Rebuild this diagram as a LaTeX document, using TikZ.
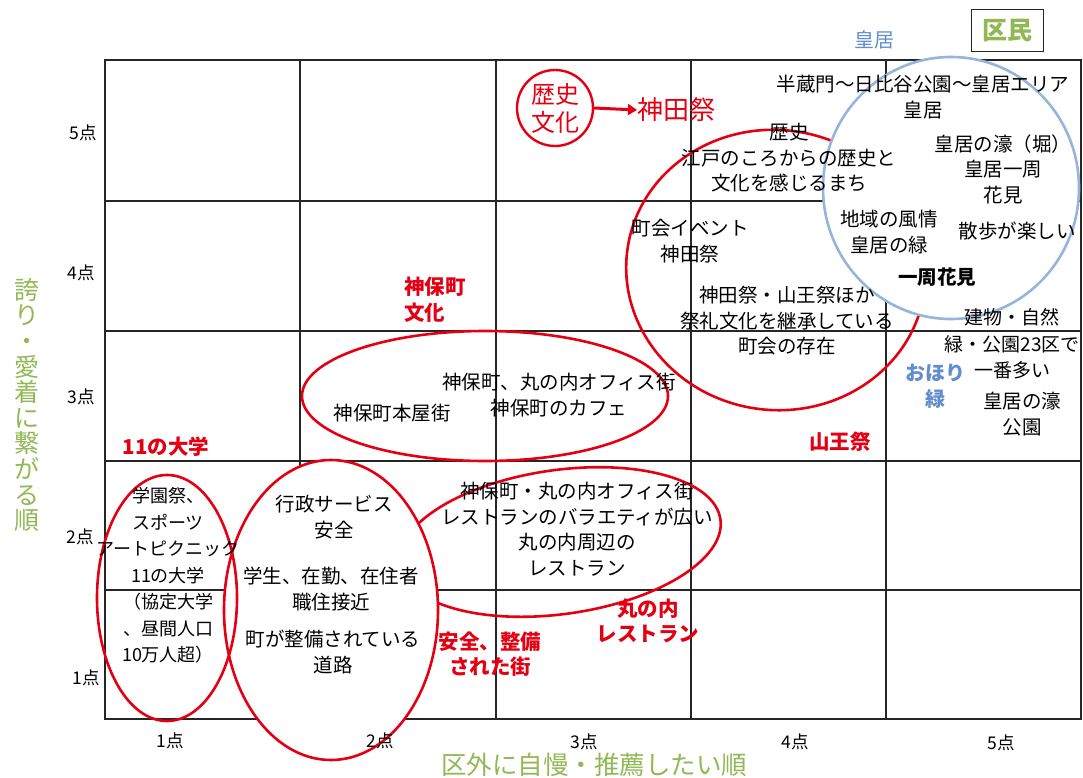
\documentclass[tikz,border=0pt]{standalone}
\usepackage{fontspec}
\setmainfont{Noto Sans CJK JP}
\usetikzlibrary{arrows.meta}
\definecolor{jred}{RGB}{228,0,18}
\definecolor{jgreen}{RGB}{146,184,84}
\definecolor{jblue}{RGB}{98,141,204}
\definecolor{cblue}{RGB}{150,180,220}
\tikzset{
  t/.style={font=\fontsize{19.5}{25.5}\selectfont, align=center, inner sep=0pt, text=black},
  tb/.style={t, font=\bfseries\fontsize{19.5}{25.5}\selectfont},
  rb/.style={t, text=jred, font=\bfseries\fontsize{20.5}{25.5}\selectfont},
  bb/.style={t, text=jblue, font=\bfseries\fontsize{20}{26}\selectfont},
  tick/.style={font=\fontsize{17.5}{19}\selectfont, inner sep=0pt},
  axis/.style={text=jgreen, inner sep=0pt, align=center},
  gridline/.style={line width=1.4pt, black!85},
  redring/.style={draw=jred, line width=2.6pt},
  bluering/.style={draw=cblue, line width=2.6pt, fill=white},
}
\begin{document}
\begin{tikzpicture}[x=1pt,y=-1pt]
\useasboundingbox (0,0) rectangle (1083,778);
% grid
\draw[gridline] (105,60) rectangle (1081,719);
\foreach \gx in {300,496,691,886} \draw[gridline] (\gx,60) -- (\gx,719);
\foreach \gy in {201,331,461,590} \draw[gridline] (105,\gy) -- (1081,\gy);
% red rings (unfilled)
\draw[redring] (485,396) ellipse [x radius=183, y radius=65];
\draw[redring, rotate around={-8:(776,270)}] (776,270) ellipse [x radius=150, y radius=140];
\draw[redring, rotate around={8:(560,542)}] (560,542) ellipse [x radius=162, y radius=72];
% filled ellipse
\draw[redring, fill=white] (331,610) ellipse [x radius=107, y radius=150];
\draw[redring] (167,598) ellipse [x radius=70, y radius=123];
% blue circle
\draw[bluering] (951,188) ellipse [x radius=128, y radius=131];
% red history circle
\node[draw=jred, line width=2.4pt, circle, minimum size=76pt, inner sep=0pt,
      text=jred, align=center, font=\fontsize{24}{28}\selectfont] (rekishi) at (555,108) {歴史\\文化};
\node[anchor=west, text=jred, inner sep=0pt, font=\fontsize{26}{28}\selectfont] (kanda) at (637,110) {神田祭};
\draw[jred, line width=3pt, -{Triangle[length=9pt,width=11pt]}] (rekishi.east) -- (kanda.west);
% top labels
\node[draw=black!85, line width=1pt, minimum width=72pt, minimum height=42pt, inner sep=0pt,
      text=jgreen, font=\bfseries\fontsize{25}{28}\selectfont] (kumin) at (1007,31) {区民};
\node[text=jblue, inner sep=0pt, font=\fontsize{20}{22}\selectfont] (kokyo) at (874,40) {皇居};
% texts
\node[t] (hanzo) at (923,97) {半蔵門～日比谷公園～皇居エリア\\皇居};
\node[t] (edo) at (789,158) {歴史\\江戸のころからの歴史と\\文化を感じるまち};
\node[t] (hori) at (1003,169) {皇居の濠（堀）\\皇居一周\\花見};
\node[t] (fuzei) at (889,232) {地域の風情\\皇居の緑};
\node[t] (sanpo) at (1017,231) {散歩が楽しい};
\node[tb] (isshu) at (937,277) {一周花見};
\node[t] (chokai) at (690,241) {町会イベント\\神田祭};
\node[t] (sairei) at (787,321) {神田祭・山王祭ほか\\祭礼文化を継承している\\町会の存在};
\node[t, font=\fontsize{19}{26.5}\selectfont] (tatemono) at (1012,344) {建物・自然\\緑・公園23区で\\一番多い};
\node[t] (hori2) at (1022,414) {皇居の濠\\公園};
\node[bb] (ohori) at (935,386) {おほり\\緑};
\node[rb] (sanno) at (840,442) {山王祭};
\node[rb, anchor=west, align=left] (jimbo) at (404,300) {神保町\\文化};
\node[t] (office) at (559,395) {神保町、丸の内オフィス街\\神保町のカフェ};
\node[t] (honya) at (392,413) {神保町本屋街};
\node[rb] (daigaku) at (166,447) {11の大学};
\node[t, font=\fontsize{18}{26.5}\selectfont] (gakuen) at (168,575.5) {学園祭、\\スポーツ\\アートピクニック\\11の大学\\（協定大学\\、昼間人口\\10万人超）};
\node[t] (gyosei) at (334,517) {行政サービス\\安全};
\node[t] (gakusei) at (331,589) {学生、在勤、在住者\\職住接近};
\node[t] (machi) at (333,652) {町が整備されている\\道路};
\node[t] (resto) at (577,529) {神保町・丸の内オフィス街\\レストランのバラエティが広い\\丸の内周辺の\\レストラン};
\node[rb] (marunouchi) at (648,621) {丸の内\\レストラン};
\node[rb] (anzen) at (490,654) {安全、整備\\された街};
% ticks
\node[tick, anchor=east] (y5) at (97,133) {5点};
\node[tick, anchor=east] (y4) at (95,273) {4点};
\node[tick, anchor=east] (y3) at (95,397) {3点};
\node[tick, anchor=east] (y2) at (94,537) {2点};
\node[tick, anchor=east] (y1) at (100,678) {1点};
\node[tick] (x1) at (170,741) {1点};
\node[tick] (x2) at (380,741) {2点};
\node[tick] (x3) at (584,742) {3点};
\node[tick] (x4) at (795,742) {4点};
\node[tick] (x5) at (1001,743) {5点};
% axis titles
\node[axis, font=\fontsize{25.5}{28}\selectfont] (xtitle) at (594,765) {区外に自慢・推薦したい順};
\node[axis, font=\fontsize{25}{25.6}\selectfont] (ytitle) at (27,405) {誇\\り\\・\\愛\\着\\に\\繋\\が\\る\\順};
\end{tikzpicture}
\end{document}
